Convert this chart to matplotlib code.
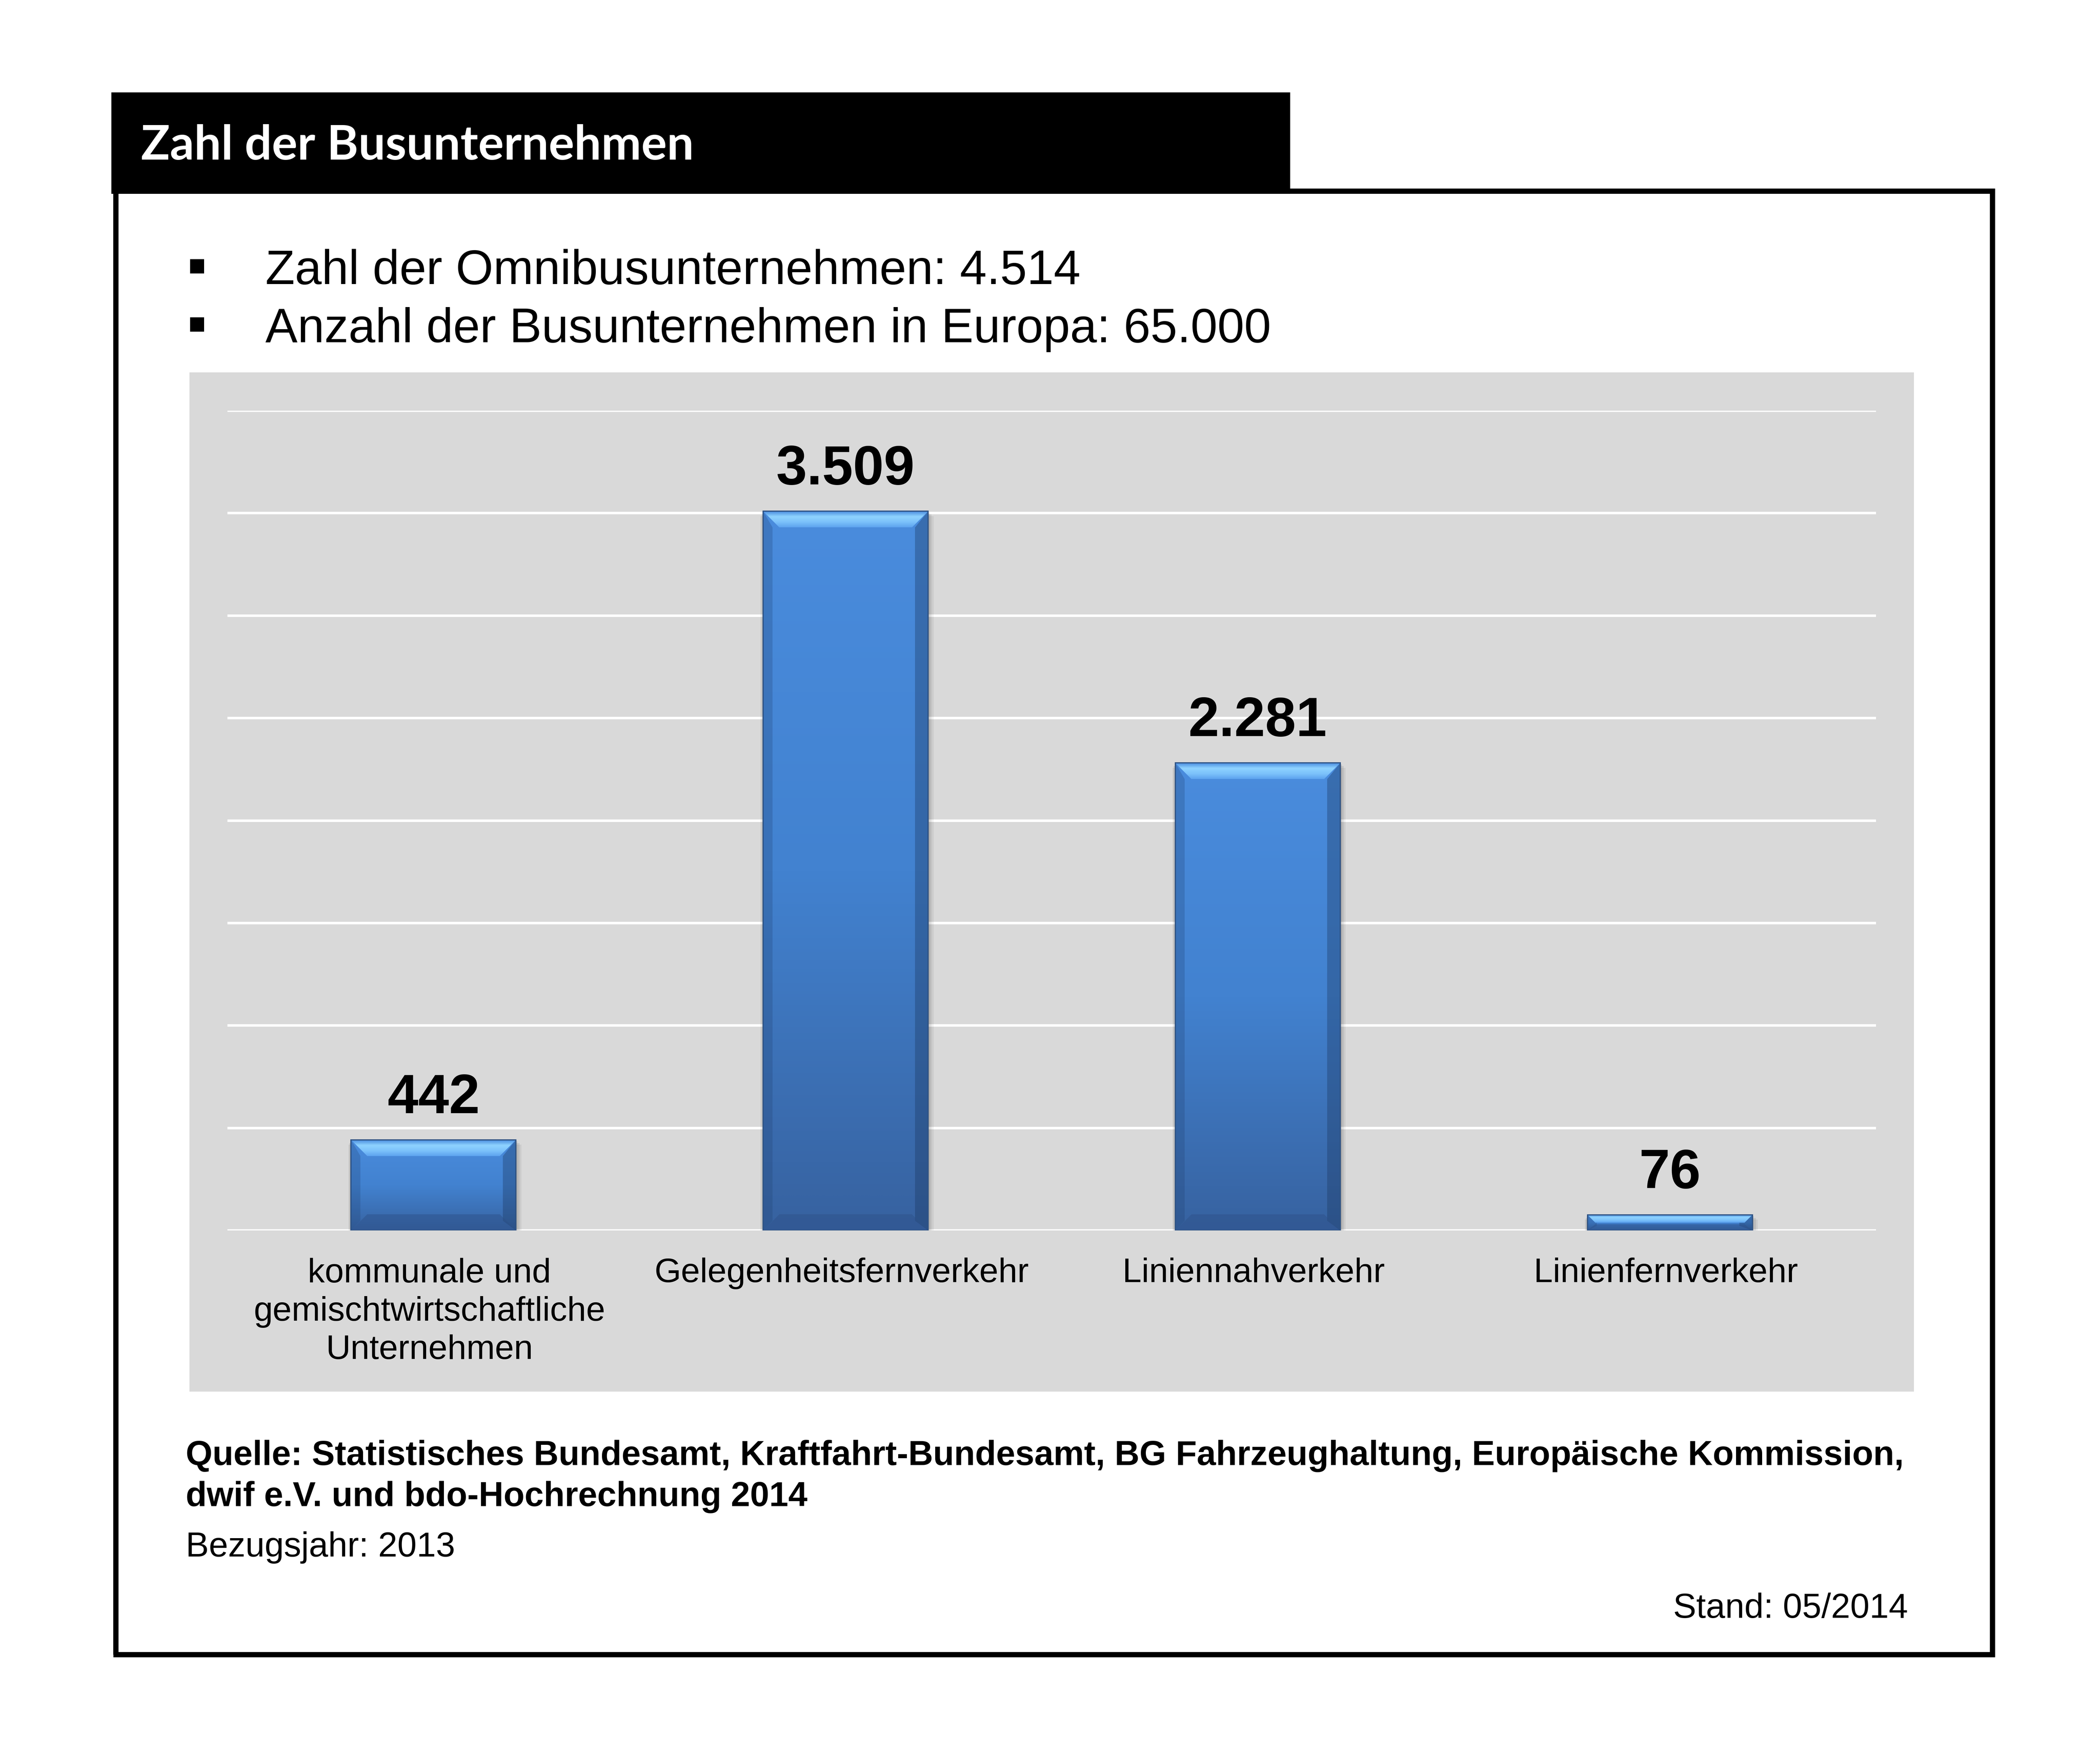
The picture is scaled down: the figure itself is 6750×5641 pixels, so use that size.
import numpy as np
import matplotlib
matplotlib.use("Agg")
import matplotlib.pyplot as plt
import matplotlib.transforms as mtransforms
from matplotlib.patches import Rectangle, Polygon
from matplotlib.lines import Line2D
from matplotlib.colors import LinearSegmentedColormap

# --- data -----------------------------------------------------------------
TITLE = "Zahl der Busunternehmen"
HEADLINES = [
    "Zahl der Omnibusunternehmen: 4.514",
    "Anzahl der Busunternehmen in Europa: 65.000",
]
CATEGORIES = [
    "kommunale und\ngemischtwirtschaftliche\nUnternehmen",
    "Gelegenheitsfernverkehr",
    "Liniennahverkehr",
    "Linienfernverkehr",
]
COMPANIES = [442, 3509, 2281, 76]
SOURCE_LINES = [
    "Quelle: Statistisches Bundesamt, Kraftfahrt-Bundesamt, BG Fahrzeughaltung, "
    "Europäische Kommission,",
    "dwif e.V. und bdo-Hochrechnung 2014",
]
REF_YEAR = "Bezugsjahr: 2013"
STAND = "Stand: 05/2014"

# --- layout helpers (pixel positions of the 6750x5641 canvas) --------------
W, H = 6750, 5641
DPI = 450


def fx(px):
    return px / W


def fy(py):
    return 1 - py / H


plt.rcParams.update({
    "font.family": ["Liberation Sans", "DejaVu Sans"],
    "font.size": 18,
})

BAR_TOP = "#4a8cdd"
BAR_BOTTOM = "#3762a0"
GRID_BG = "#d9d9d9"

fig = plt.figure(figsize=(W / DPI, H / DPI), dpi=DPI)
fig.patch.set_facecolor("white")

# title bar and frame
fig.add_artist(Rectangle((fx(358), fy(623)), (4147 - 358) / W, (623 - 297) / H,
                         transform=fig.transFigure, fc="black", ec="none", zorder=2))
fig.text(fx(453), fy(513), TITLE, color="white", fontsize=24.6, fontweight="bold",
         family=["Lato", "DejaVu Sans"], va="baseline", ha="left", zorder=3)

frame_lw = 2.7
for (xa, ya), (xb, yb) in [((372, 614), (372, 5318)),
                           ((364, 5318), (6412, 5318)),
                           ((6404, 606), (6404, 5326)),
                           ((4140, 614), (6412, 614))]:
    fig.add_artist(Line2D([fx(xa), fx(xb)], [fy(ya), fy(yb)], transform=fig.transFigure,
                          color="black", lw=frame_lw, solid_capstyle="butt", zorder=2))

# bullet points
for i, line in enumerate(HEADLINES):
    base = 913 + i * 187
    fig.add_artist(Rectangle((fx(611), fy(base - 34)), 45 / W, 46 / H,
                             transform=fig.transFigure, fc="black", ec="none"))
    fig.text(fx(853), fy(base), line, fontsize=24.8, va="baseline", ha="left")

# grey chart background
fig.add_artist(Rectangle((fx(609), fy(4473)), (6152 - 609) / W, (4473 - 1197) / H,
                         transform=fig.transFigure, fc=GRID_BG, ec="none", zorder=0))

# --- bar chart ------------------------------------------------------------
ax = fig.add_axes([fx(731), fy(3955), (6030 - 731) / W, (3955 - 1320) / H])
ax.set_zorder(1)
ax.set_facecolor("none")

x = np.arange(len(COMPANIES))
width = 0.4
bars = ax.bar(x, COMPANIES, width=width, color=BAR_TOP, edgecolor="#2f5384",
              linewidth=0.6, zorder=3)

px_per_y = (3955 - 1320) / 4000
px_per_x = (6030 - 731) / 4
grad = LinearSegmentedColormap.from_list("bar", [BAR_TOP, "#4282d0", BAR_BOTTOM])
bevel_cmap = LinearSegmentedColormap.from_list(
    "bevel", ["#4b8ee0", "#8fd3ff", "#7cc2fb", "#5ea4ef"])

for rect, v in zip(bars, COMPANIES):
    x0 = rect.get_x()
    x1 = x0 + rect.get_width()
    # soft shadow
    for k, a in enumerate([0.10, 0.08, 0.06]):
        off = (6 + 8 * k)
        ax.add_patch(Rectangle((x0 - off / px_per_x * 0.4, -off / px_per_y),
                               (x1 - x0) + 2 * off / px_per_x * 0.6, v + off / px_per_y * 0.3,
                               fc="black", ec="none", alpha=a, zorder=2.5))
    # body gradient
    img = ax.imshow(np.linspace(0, 1, 256).reshape(-1, 1), cmap=grad, aspect="auto",
                    extent=(x0, x1, 0, v), origin="upper", zorder=3.1, interpolation="bilinear")
    img.set_clip_path(rect)

    bh = min(52 / px_per_y, v * 0.5)
    bx = min(52 / px_per_x, bh * px_per_y / px_per_x)
    sx = 30 / px_per_x
    # side shading
    ax.add_patch(Polygon([(x0, 0), (x0, v), (x0 + sx, v - bh), (x0 + sx, bh * 0.6)],
                         closed=True, fc="#1f3f6e", ec="none", alpha=0.25, zorder=3.2))
    ax.add_patch(Polygon([(x1, 0), (x1, v), (x1 - sx * 1.4, v - bh), (x1 - sx * 1.4, bh * 0.6)],
                         closed=True, fc="#1a355c", ec="none", alpha=0.35, zorder=3.2))
    # bottom bevel
    ax.add_patch(Polygon([(x0, 0), (x1, 0), (x1 - bx, min(bh, v * 0.4)), (x0 + bx, min(bh, v * 0.4))],
                         closed=True, fc="#2c5088", ec="none", alpha=0.45, zorder=3.3))
    # top bevel highlight
    top = Polygon([(x0, v), (x1, v), (x1 - bx, v - bh), (x0 + bx, v - bh)],
                  closed=True, fc="none", ec="none", transform=ax.transData)
    hl = ax.imshow(np.linspace(0, 1, 64).reshape(-1, 1), cmap=bevel_cmap, aspect="auto",
                   extent=(x0, x1, v - bh, v), origin="upper", zorder=3.4,
                   interpolation="bilinear")
    hl.set_clip_path(top)
    ax.add_patch(Rectangle((x0, 0), x1 - x0, v, fc="none", ec="#2f5384", lw=0.6, zorder=3.5))

    label = f"{v:,}".replace(",", ".")
    ax.annotate(label, (rect.get_x() + rect.get_width() / 2, v), xytext=(0, 13.8),
                textcoords="offset points", ha="center", va="baseline",
                fontsize=28.5, fontweight="bold", zorder=4)

ax.set_xlim(-0.5, len(COMPANIES) - 0.5)
ax.set_ylim(0, 4000)
ax.set_yticks(np.arange(0, 4001, 500))
ax.set_yticklabels([])
ax.grid(axis="y", color="white", lw=1.3, zorder=1)
ax.set_axisbelow(True)
ax.set_xticks(x)
ax.set_xticklabels(CATEGORIES, fontsize=17.6, linespacing=1.27)
ax.tick_params(length=0, pad=14)
shift = mtransforms.ScaledTranslation(-13 / DPI, 0, fig.dpi_scale_trans)
for lab in ax.get_xticklabels():
    lab.set_transform(lab.get_transform() + shift)
for s in ax.spines.values():
    s.set_visible(False)

# --- footer ---------------------------------------------------------------
for i, line in enumerate(SOURCE_LINES):
    fig.text(fx(597), fy(4709 + i * 132), line, fontsize=17.7, fontweight="bold",
             va="baseline", ha="left")
fig.text(fx(597), fy(5003), REF_YEAR, fontsize=17.8, va="baseline", ha="left")
fig.text(fx(6133), fy(5200), STAND, fontsize=17.8, va="baseline", ha="right")

fig.savefig("out.png", dpi=DPI)
plt.close(fig)
